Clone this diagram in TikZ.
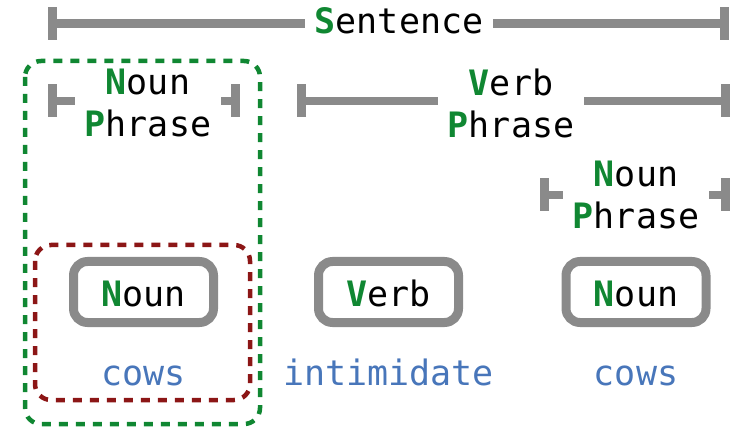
\documentclass[tikz,border=0pt]{standalone}
\usepackage{fontspec}
\setmonofont{DejaVu Sans Mono}
\usetikzlibrary{positioning,arrows.meta}
\definecolor{initgreen}{RGB}{16,135,50}
\definecolor{wordblue}{RGB}{72,118,186}
\definecolor{groupred}{RGB}{140,22,22}
\definecolor{bargray}{RGB}{138,138,138}
\newcommand{\initial}[1]{\textbf{\textcolor{initgreen}{#1}}}
\tikzset{
	every node/.style={font=\ttfamily\fontsize{35}{42}\selectfont},
	phrase/.style={align=center, inner xsep=10pt, inner ysep=0pt},
	bracket/.style={draw=bargray, line width=8.5pt, -{Bar[width=33pt,length=9pt]}},
	wordbox/.style={draw=bargray, line width=9pt, rounded corners=14pt, minimum width=140pt, minimum height=61pt, inner sep=0pt, text height=29pt, text depth=0pt},
	word/.style={text=wordblue, inner sep=0pt},
	groupbox/.style={line width=4.5pt, dash pattern=on 9pt off 8pt, rounded corners=16pt}
}

\begin{document}
\begin{tikzpicture}[x=1pt,y=-1pt]
	\useasboundingbox (0,0) rectangle (735,427);

	\node[phrase, anchor=base] (sent) at (399,34) {\initial{S}entence};
	\node[phrase] (npA) at (148,103) {\initial{N}oun\\\initial{P}hrase};
	\node[phrase] (vp) at (511,103) {\initial{V}erb\\\initial{P}hrase};
	\node[phrase] (npB) at (636,195) {\initial{N}oun\\\initial{P}hrase};

	\coordinate (sentL) at (48,23.5);
	\coordinate (sentR) at (729,23.5);
	\coordinate (npAL) at (48,101);
	\coordinate (npAR) at (240,101);
	\coordinate (vpL) at (297,101);
	\coordinate (vpR) at (730,101);
	\coordinate (npBL) at (540,195);
	\coordinate (npBR) at (730,195);

	\draw[bracket] (sent.west |- sentL) -- (sentL);
	\draw[bracket] (sent.east |- sentR) -- (sentR);
	\draw[bracket] (npA.west |- npAL) -- (npAL);
	\draw[bracket] (npA.east |- npAR) -- (npAR);
	\draw[bracket] (vp.west |- vpL) -- (vpL);
	\draw[bracket] (vp.east |- vpR) -- (vpR);
	\draw[bracket] (npB.west |- npBL) -- (npBL);
	\draw[bracket] (npB.east |- npBR) -- (npBR);

	\node[wordbox] (nounA) at (143.5,292) {\initial{N}oun};
	\node[wordbox] (verb) at (388.5,292) {\initial{V}erb};
	\node[wordbox] (nounB) at (636,292) {\initial{N}oun};

	\node[word, below=58pt of nounA.south, anchor=base] (cowsA) {cows};
	\node[word, below=58pt of verb.south, anchor=base] (intim) {intimidate};
	\node[word, below=58pt of nounB.south, anchor=base] (cowsB) {cows};

	\draw[groupbox, draw=initgreen] (25,61) rectangle (260,424);
	\draw[groupbox, draw=groupred] (35,245) rectangle (250,400);
\end{tikzpicture}
\end{document}
